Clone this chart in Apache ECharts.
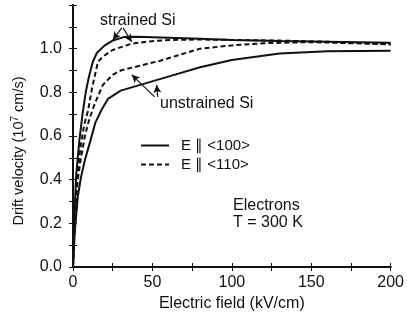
<!DOCTYPE html>
<html>
<head>
<meta charset="utf-8">
<script src="https://cdn.jsdelivr.net/npm/echarts@6/dist/echarts.min.js"></script>
<style>
  html, body { margin: 0; padding: 0; background: #fff; }
  #chart { width: 407px; height: 321px; }
</style>
</head>
<body>
<div id="chart"></div>
<script>
// Electric field (kV/cm) and drift velocity (1e7 cm/s)
const strained100Field = [0, 1, 2, 4, 6, 8, 10, 12.5, 15, 20, 25, 32, 40, 60, 80, 100, 130, 160, 200];
const strained100Vel   = [0, 0.25, 0.42, 0.58, 0.7, 0.8, 0.87, 0.94, 0.98, 1.015, 1.037, 1.053, 1.055, 1.05, 1.045, 1.04, 1.035, 1.032, 1.027];

const strained110Field = [0, 1, 2.5, 4.5, 7, 9.6, 12, 15.7, 19, 25, 36, 46, 61, 80, 100, 130, 160, 200];
const strained110Vel   = [0, 0.22, 0.4, 0.54, 0.65, 0.72, 0.82, 0.94, 0.965, 0.994, 1.021, 1.032, 1.04, 1.042, 1.04, 1.037, 1.032, 1.02];

const unstrained110Field = [0, 1.5, 3, 5, 7.5, 10, 13.8, 18.8, 25, 30, 40, 55, 80, 100, 120, 150, 200];
const unstrained110Vel   = [0, 0.25, 0.4, 0.5, 0.6, 0.67, 0.75, 0.834, 0.88, 0.9, 0.918, 0.945, 1.0, 1.015, 1.025, 1.03, 1.02];

const unstrained100Field = [0, 1, 3, 5, 7.5, 11, 14, 18, 22, 30, 45, 60, 80, 100, 130, 160, 200];
const unstrained100Vel   = [0, 0.15, 0.32, 0.41, 0.49, 0.58, 0.66, 0.72, 0.77, 0.808, 0.84, 0.872, 0.915, 0.948, 0.978, 0.988, 0.99];

const legendNames = ['E \u2225 <100>', 'E \u2225 <110>'];
const xTickStep = 25;
const xLabelStep = 50;
const yTickStep = 0.1;
const yLabelMax = 1.0;

// annotation arrows: [from, to] in data coords
const strainedArrows = [
  [[30.7, 1.095], [25.1, 1.04]],
  [[31.5, 1.095], [37, 1.031]]
];
const unstrainedArrows = [
  [[51.4, 0.779], [37, 0.88]],
  [[53.3, 0.779], [52.7, 0.834]]
];

const FONT = "'Liberation Sans', Arial, sans-serif";
const INK = '#111';
const FS = 16;

function pairs(xs, ys) {
  return xs.map((x, i) => [x, ys[i]]);
}

const chart = echarts.init(document.getElementById('chart'));

const lineSeries = (name, xs, ys, dashed) => ({
  name: name,
  type: 'line',
  xAxisIndex: 0,
  yAxisIndex: 0,
  data: pairs(xs, ys),
  symbol: 'none',
  smooth: false,
  lineStyle: { color: INK, width: 2, type: dashed ? [5, 3] : 'solid' },
  itemStyle: { color: INK },
  z: 3
});

const arrowLines = (arrows) => arrows.map((a) => [{ coord: a[0] }, { coord: a[1] }]);

const axisBase = {
  axisLine: { show: true, lineStyle: { color: INK, width: 2 } },
  axisTick: { show: true, inside: true, length: 4, lineStyle: { color: INK, width: 1 } },
  splitLine: { show: false }
};

const option = {
  animation: false,
  backgroundColor: '#fff',
  textStyle: { fontFamily: FONT, color: INK },
  grid: { left: 73, right: 15, top: 5, bottom: 54 },
  legend: {
    show: true,
    orient: 'vertical',
    left: 140,
    top: 138,
    padding: 0,
    itemWidth: 28,
    itemHeight: 14,
    itemGap: 4,
    data: legendNames,
    selectedMode: false,
    itemStyle: { color: 'transparent', borderColor: 'transparent', borderWidth: 0 },
    textStyle: { fontFamily: FONT, fontSize: 15, color: INK, padding: [0, 0, 0, 7] }
  },
  xAxis: [
    Object.assign({}, axisBase, {
      type: 'value',
      position: 'bottom',
      min: 0,
      max: 200,
      interval: xTickStep,
      name: 'Electric field (kV/cm)',
      nameLocation: 'middle',
      nameGap: 29,
      nameTextStyle: { fontFamily: FONT, fontSize: FS, color: INK },
      axisLabel: {
        margin: 8,
        fontFamily: FONT,
        fontSize: FS,
        color: INK,
        formatter: (v) => (v % xLabelStep === 0 ? String(v) : '')
      }
    }),
    Object.assign({}, axisBase, {
      type: 'value',
      position: 'top',
      min: 0,
      max: 200,
      interval: xTickStep,
      axisLabel: { show: false }
    })
  ],
  yAxis: [
    Object.assign({}, axisBase, {
      type: 'value',
      position: 'left',
      min: 0,
      max: 1.2,
      interval: yTickStep,
      axisLabel: {
        margin: 11,
        fontFamily: FONT,
        fontSize: FS,
        color: INK,
        formatter: (v) => (Math.round(v * 10) % 2 === 0 && v <= yLabelMax + 1e-9 ? v.toFixed(1) : '')
      }
    }),
    Object.assign({}, axisBase, {
      type: 'value',
      position: 'right',
      min: 0,
      max: 1.2,
      interval: yTickStep,
      axisLabel: { show: false }
    })
  ],
  series: [
    lineSeries(legendNames[0], strained100Field, strained100Vel, false),
    lineSeries(legendNames[1], strained110Field, strained110Vel, true),
    lineSeries(legendNames[1], unstrained110Field, unstrained110Vel, true),
    lineSeries(legendNames[0], unstrained100Field, unstrained100Vel, false),
    {
      name: 'arrows',
      type: 'line',
      data: [],
      markLine: {
        silent: true,
        symbol: ['none', 'arrow'],
        symbolSize: [6, 8],
        label: { show: false },
        lineStyle: { color: INK, width: 1.2, type: 'solid' },
        data: arrowLines(strainedArrows).concat(arrowLines(unstrainedArrows))
      }
    }
  ],
  graphic: [
    {
      type: 'text', x: 19, y: 151, rotation: Math.PI / 2,
      style: {
        text: 'Drift velocity (10{sup|7} cm/s)',
        font: '14.5px ' + FONT, fill: INK,
        align: 'center', verticalAlign: 'middle',
        rich: { sup: { fontSize: 10, fontFamily: FONT, fill: INK, padding: [0, 0, 8, 0] } }
      }
    },
    {
      type: 'text', left: 100, top: 13,
      style: { text: 'strained Si', font: FS + 'px ' + FONT, fill: INK }
    },
    {
      type: 'text', left: 160, top: 96,
      style: { text: 'unstrained Si', font: FS + 'px ' + FONT, fill: INK }
    },
    {
      type: 'text', left: 233, top: 197,
      style: { text: 'Electrons\nT = 300 K', font: FS + 'px ' + FONT, fill: INK, lineHeight: 17 }
    }
  ]
};

chart.setOption(option);
</script>
</body>
</html>
